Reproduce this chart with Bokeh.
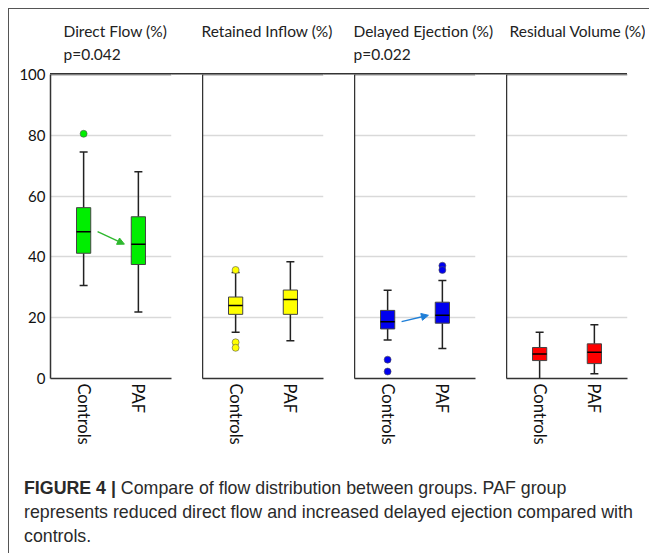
import math
from bokeh.plotting import figure
from bokeh.models import (FactorRange, Range1d, ColumnDataSource, FixedTicker, Title,
                          Span, Arrow, NormalHead, Div)
from bokeh.layouts import row, column
from bokeh.transform import dodge
from bokeh.embed import file_html
from bokeh.resources import INLINE

# ---------------- data ----------------
panel_names = ["Direct Flow (%)", "Retained Inflow (%)", "Delayed Ejection (%)", "Residual Volume (%)"]
p_values = ["p=0.042", None, "p=0.022", None]
groups = ["Controls", "PAF"]
panel_colors = ["#00ee00", "#ffff00", "#0000ee", "#ff0000"]

whisker_low = [[30.6, 21.9], [15.2, 12.4], [12.7, 9.9], [0.0, 1.6]]
q1 = [[41.2, 37.5], [21.1, 21.1], [16.3, 18.2], [5.9, 4.9]]
median = [[48.3, 44.2], [24.0, 26.0], [18.7, 20.8], [8.1, 8.6]]
q3 = [[56.2, 53.2], [26.8, 29.1], [22.4, 25.1], [10.2, 11.4]]
whisker_high = [[74.5, 68.0], [34.9, 38.4], [29.0, 32.2], [15.2, 17.7]]

outlier_panel = [0, 1, 1, 1, 2, 2, 2, 2]
outlier_group = ["Controls", "Controls", "Controls", "Controls", "Controls", "Controls", "PAF", "PAF"]
outlier_value = [80.5, 35.7, 11.9, 10.1, 6.2, 2.3, 37.1, 35.7]

arrow_panels = [0, 2]
arrow_colors = ["#2eb82e", "#1f7fd8"]

y_ticks = [0, 20, 40, 60, 80, 100]
grid_ticks = [20, 40, 60, 80]

# ---------------- style ----------------
FONT = "Lato"
AXIS_COLOR = "#333333"
title_offsets = [13, -1, -1, 3]
FRAME_W, FRAME_H = 121, 304
BORDER_TOP, LEFT_FIRST, RIGHT_GAP, RIGHT_LAST = 65, 41, 31, 18


def make_panel(i):
    first = i == 0
    last = i == 3
    p = figure(x_range=FactorRange(*groups, range_padding=0.105),
               y_range=Range1d(0, 100),
               frame_width=FRAME_W, frame_height=FRAME_H,
               min_border_left=LEFT_FIRST if first else 0,
               min_border_right=RIGHT_LAST if last else RIGHT_GAP,
               min_border_top=BORDER_TOP, min_border_bottom=75,
               output_backend="svg", toolbar_location=None,
               outline_line_color=None, border_fill_color=None,
               background_fill_color="white")

    src = ColumnDataSource(dict(
        group=groups,
        lo=whisker_low[i], q1=q1[i], med=median[i], q3=q3[i], hi=whisker_high[i]))
    c = panel_colors[i]

    # whiskers
    p.segment(x0="group", y0="lo", x1="group", y1="q1", source=src,
              line_color="#222222", line_width=1.5)
    p.segment(x0="group", y0="q3", x1="group", y1="hi", source=src,
              line_color="#222222", line_width=1.5)
    p.scatter(x="group", y="hi", source=src, marker="dash", size=8,
              line_color="#222222", line_width=1.5)
    if i != 3:
        p.scatter(x="group", y="lo", source=src, marker="dash", size=8,
                  line_color="#222222", line_width=1.5)
    else:
        p.scatter(x=[groups[1]], y=[whisker_low[i][1]], marker="dash", size=8,
                  line_color="#222222", line_width=1.5)
    # boxes
    p.vbar(x="group", width=0.26, bottom="q1", top="q3", source=src,
           fill_color=c, line_color="#444444", line_width=1)
    p.segment(x0=dodge("group", -0.13, range=p.x_range), y0="med",
              x1=dodge("group", 0.13, range=p.x_range), y1="med", source=src,
              line_color="#000000", line_width=1.5)

    # outliers
    ox = [g for k, g in zip(outlier_panel, outlier_group) if k == i]
    oy = [v for k, v in zip(outlier_panel, outlier_value) if k == i]
    if ox:
        p.scatter(x=ox, y=oy, size=7, fill_color=c, line_color="#555555", line_width=0.6)

    # arrows between medians
    if i in arrow_panels:
        ac = arrow_colors[arrow_panels.index(i)]
        p.add_layout(Arrow(end=NormalHead(size=7, fill_color=ac, line_color=ac),
                           x_start=0.5 + 0.255, y_start=median[i][0],
                           x_end=1.5 - 0.255, y_end=median[i][1],
                           line_color=ac, line_width=1.4))

    # top frame line
    p.add_layout(Span(location=100, dimension="width", line_color=AXIS_COLOR, line_width=1.5))

    # grid
    p.xgrid.visible = False
    p.ygrid.ticker = FixedTicker(ticks=grid_ticks)
    p.ygrid.grid_line_color = "#d9d9d9"
    p.ygrid.grid_line_width = 1.5

    # axes
    p.xaxis.major_label_orientation = -math.pi / 2
    p.xaxis.major_tick_line_color = None
    p.xaxis.major_tick_out = 0
    p.xaxis.major_tick_in = 0
    p.xaxis.axis_line_color = AXIS_COLOR
    p.xaxis.axis_line_width = 1.5
    p.xaxis.major_label_text_font = FONT
    p.xaxis.major_label_text_font_size = "16.5px"
    p.xaxis.major_label_text_color = "#111111"
    p.xaxis.major_label_standoff = 5

    p.yaxis.ticker = FixedTicker(ticks=y_ticks if first else [])
    p.yaxis.major_tick_line_color = None
    p.yaxis.minor_tick_line_color = None
    p.yaxis.major_tick_out = 0
    p.yaxis.major_tick_in = 0
    p.yaxis.minor_tick_out = 0
    p.yaxis.minor_tick_in = 0
    p.yaxis.axis_line_color = AXIS_COLOR
    p.yaxis.axis_line_width = 1.5
    p.yaxis.major_label_text_font = FONT
    p.yaxis.major_label_text_font_size = "15px"
    p.yaxis.major_label_text_color = "#111111"
    p.yaxis.major_label_standoff = 5 if first else 0

    # two-line header
    header = panel_names[i] + "\n" + (p_values[i] if p_values[i] else " ")
    p.title = Title(text=header, standoff=22, text_font=FONT, text_font_size="15.5px",
                    text_font_style="normal", text_color="#222222", align="left",
                    offset=title_offsets[i], text_line_height=1.3)
    return p


panels = [make_panel(i) for i in range(4)]

# continuous top rule joining the four panel frames (CSS background of the row)
line_left = LEFT_FIRST
line_width = 3 * (FRAME_W + RIGHT_GAP) + FRAME_W
panel_row = row(*panels, styles={
    "background-image": "linear-gradient(#333333, #333333)",
    "background-repeat": "no-repeat",
    "background-position": f"{line_left}px {BORDER_TOP - 0.75}px",
    "background-size": f"{line_width}px 1.5px",
})

caption_html = (
    '<div style="font-family: \'Liberation Sans\', Arial, sans-serif; font-size: 17.8px; '
    'line-height: 24px; color: #2a2a2a; padding-left: 10px; padding-top: 18px; white-space: nowrap;">'
    '<b>FIGURE 4 |</b> Compare of flow distribution between groups. PAF group<br>'
    'represents reduced direct flow and increased delayed ejection compared with<br>'
    'controls.</div>'
)
caption = Div(text=caption_html, width=630, height=90)

layout = column(panel_row, caption, margin=(8, 0, 0, 8),
                styles={"border-left": "1.5px solid #555555", "border-top": "1.5px solid #555555"})

open("out.html", "w").write(file_html(layout, INLINE))
